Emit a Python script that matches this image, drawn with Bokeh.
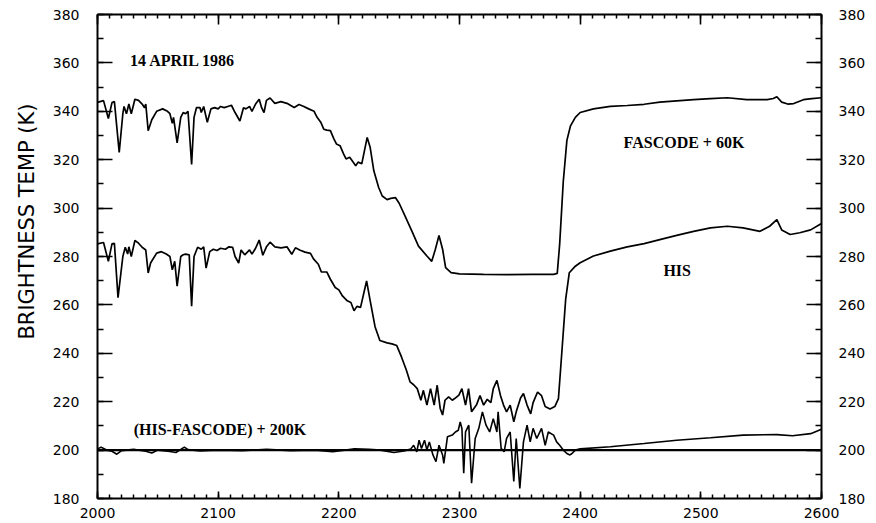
from bokeh.plotting import figure
from bokeh.models import Range1d, FixedTicker, LinearAxis, Span, Label, Title, CustomJSTickFormatter
from bokeh.embed import file_html
from bokeh.resources import INLINE

# ---------------- data ----------------
fas_wn = [2000, 2005, 2009, 2012, 2014, 2018, 2021, 2022, 2024, 2026, 2028, 2031, 2034, 2037, 2039,
          2040, 2042, 2045, 2049, 2054, 2058, 2060, 2062, 2063, 2066, 2069, 2071, 2073, 2075, 2078,
          2080, 2082, 2085, 2086, 2088, 2091, 2094, 2097, 2100, 2102, 2105, 2108, 2111, 2114, 2118,
          2121, 2123, 2126, 2128, 2131, 2134, 2136, 2138, 2140, 2143, 2147, 2152, 2157, 2163, 2167,
          2171, 2175, 2179.5, 2182, 2185, 2187.5, 2190, 2193, 2196, 2198, 2201, 2204, 2206, 2209,
          2214, 2216, 2219, 2223.5, 2226, 2229, 2233, 2236, 2240, 2243, 2247, 2250, 2255, 2261, 2266,
          2273, 2277, 2280, 2283, 2286, 2288.5, 2293, 2300, 2320, 2340, 2360, 2378, 2381, 2383, 2386,
          2389, 2392, 2396, 2400, 2411, 2425, 2439, 2453, 2466, 2480, 2494, 2508, 2522, 2538, 2555,
          2560, 2563, 2567, 2572, 2577, 2585, 2592, 2600]
fas_t = [343.7, 344.4, 337, 343.6, 344, 323, 339, 342, 339, 343, 339, 345, 344.5, 343, 341.5,
         343, 332, 336.5, 340, 341, 340, 339, 335, 337.5, 327, 337.5, 339.5, 339, 340, 318,
         337.5, 341.5, 341.5, 339.5, 342, 335.5, 341, 341.5, 341, 342, 341.5, 342, 342.5, 339.5, 336,
         341.5, 341, 342, 340, 343, 345, 341.5, 339.5, 344.5, 345.5, 343.3, 344, 343.3, 341.6, 342.8,
         342, 341, 340, 337.5, 335.5, 332.6, 332.2, 332, 328.5, 326.5, 325.8, 322.3, 320.3, 321,
         317.5, 319, 318.3, 329.2, 325, 315.4, 308.5, 305, 303.5, 304, 304.3, 302, 296.6, 290, 284.3,
         280.2, 278, 283, 288.7, 283, 275.4, 273.3, 272.8, 272.6, 272.5, 272.6, 272.6, 273, 285, 311,
         328, 334, 337.5, 339.5, 341, 342, 342.4, 342.9, 343.8, 344.3, 344.8, 345.2, 345.6, 344.8, 344.8,
         345.3, 346, 343.8, 343, 343.2, 344.8, 345.2, 345.6]

his_wn = [2000, 2005, 2009, 2012, 2014, 2017, 2021, 2023, 2025, 2026, 2028, 2031, 2034, 2037, 2040,
          2042, 2044, 2049, 2053, 2057, 2060, 2062, 2064, 2066, 2069, 2071, 2073, 2076, 2078, 2080,
          2083, 2086, 2088, 2090, 2093, 2096, 2099, 2102, 2106, 2109, 2112, 2114, 2117, 2119, 2122,
          2126, 2128, 2131, 2134, 2137, 2140, 2143, 2147, 2152, 2157, 2161, 2164, 2168, 2172, 2176.5,
          2179, 2183, 2185.5, 2190, 2193, 2197, 2200, 2203, 2207, 2210, 2212.6, 2215, 2218, 2223, 2226,
          2230, 2234, 2240, 2244, 2248, 2252, 2256, 2259, 2262, 2265, 2268, 2270, 2273, 2276, 2279,
          2281.5, 2284, 2286, 2288, 2291, 2294, 2296, 2299.5, 2302, 2305, 2307.5, 2310, 2314, 2317, 2320,
          2323, 2326, 2328, 2331, 2334, 2336.5, 2339, 2342, 2345, 2347, 2350.6, 2353, 2356, 2359, 2361,
          2364.7, 2368, 2371, 2375, 2379, 2382, 2385, 2388, 2391, 2396, 2400, 2411, 2425, 2439, 2453,
          2466, 2480, 2494, 2508, 2522, 2535, 2549, 2557, 2563, 2567, 2574, 2582, 2591, 2600]
his_t = [285.2, 285.8, 278, 285.2, 285.5, 263, 280, 283.8, 281, 284, 280, 286.6, 285.5, 283.8, 282.7,
         273.2, 277.3, 281.4, 282, 281, 280, 274.5, 278, 267.7, 280, 280.7, 281, 280.7, 259.5, 280,
         283.8, 283, 284, 275.2, 282, 283, 282.5, 283.4, 283, 284, 283.8, 280, 277.3, 282.7, 280.7,
         282.7, 281, 283.4, 286.8, 280.5, 284, 285.9, 284, 283.6, 284, 280.9, 283.6, 282.6, 281.8, 281.3,
         279, 276.8, 273.6, 273.6, 270.6, 267.2, 266.2, 263.7, 261.7, 261, 257.6, 259.4, 259, 269.9, 261.7,
         251, 245.3, 244.3, 243.9, 243.2, 238.4, 233, 228.2, 227, 225.4, 220.6, 224.7, 218.6, 225.4, 218.6,
         226.8, 217.2, 214.5, 220.6, 222, 220.6, 221.3, 222.7, 225.4, 218.6, 225.4, 215.8, 218.6, 222.5, 218.6,
         221, 219.6, 225.4, 228.8, 222.5, 218.6, 215.8, 218.6, 211.7, 215.8, 221.5, 223.4, 218.6, 215, 219.6,
         224, 222.5, 218, 217, 218, 221.3, 241.8, 262.4, 273.3, 276, 277.4, 280.2, 282.2, 284, 285.3,
         287, 288.7, 290.4, 291.8, 292.5, 291.8, 290.4, 292.5, 295.2, 291, 289.1, 289.8, 291, 293.6]

diff_wn = [2000, 2003, 2008, 2012, 2016, 2020, 2030, 2040, 2045, 2050, 2060, 2065, 2072, 2075, 2085,
           2100, 2120, 2140, 2160, 2180, 2195, 2213, 2225, 2234.5, 2245.6, 2254, 2259.5, 2262, 2264.6,
           2266.5, 2268.5, 2271, 2273, 2275, 2278, 2280.5, 2283, 2286, 2287, 2290, 2294, 2296.6, 2299,
           2300.6, 2302, 2303.5, 2305, 2307.7, 2310, 2313, 2316, 2319, 2322, 2325, 2328, 2331, 2332,
           2334.5, 2337, 2339, 2342, 2345, 2347, 2350, 2353, 2356, 2358.6, 2361, 2364, 2368, 2371,
           2373.6, 2378, 2380.5, 2383, 2386, 2389, 2391.5, 2393, 2396, 2400, 2425, 2453, 2480, 2508,
           2535, 2563, 2576, 2591, 2600]
diff_t = [200.5, 201.2, 200, 199.5, 198.3, 199.8, 200.3, 199.5, 198.8, 200, 199.4, 199, 201.2, 200.2, 199.6,
          200, 199.8, 200.3, 199.8, 200, 199.3, 200.5, 200.3, 200, 199, 199.6, 200.4, 202, 199.3,
          204.1, 200.7, 204.1, 200, 203.4, 198, 195.2, 202, 198, 194.5, 205.5, 206.2, 207.5, 208.2,
          211.6, 208.9, 190.4, 207.5, 210.3, 186.3, 204.8, 209, 215.8, 210.3, 207.5, 213, 207.5, 215.8,
          200.7, 199.3, 204.8, 207.5, 187, 204.8, 184.2, 203.4, 210.3, 203.4, 209, 204.8, 209, 202,
          207.5, 206.2, 203.4, 202, 200, 198.6, 198, 198.5, 200, 200.5, 201.4, 202.7, 204.1, 205.1,
          206.2, 206.4, 205.9, 206.8, 208.6]

baseline_k = 200
x_major = [2000, 2100, 2200, 2300, 2400, 2500, 2600]
x_minor = list(range(2000, 2601, 10))
y_major = [180, 200, 220, 240, 260, 280, 300, 320, 340, 360, 380]
y_minor = list(range(180, 381, 10))
y_title = "BRIGHTNESS TEMP (K)"

# ---------------- figure ----------------
p = figure(width=876, height=523, x_range=Range1d(2000, 2600), y_range=Range1d(180, 380),
           output_backend="svg", toolbar_location=None,
           min_border_left=97, min_border_right=55, min_border_top=14, min_border_bottom=25)
p.background_fill_color = "white"
p.border_fill_color = "white"
p.outline_line_color = None
p.xgrid.visible = False
p.ygrid.visible = False

tick_font = "DejaVu Sans"

def style_axis(ax, major_in, minor_in):
    ax.axis_line_width = 2
    ax.axis_line_color = "black"
    ax.major_tick_in = major_in
    ax.major_tick_out = 0
    ax.minor_tick_in = minor_in
    ax.minor_tick_out = 0
    ax.major_tick_line_width = 1.6
    ax.minor_tick_line_width = 1.5
    ax.major_tick_line_color = "black"
    ax.minor_tick_line_color = "black"
    ax.major_label_text_font = tick_font
    ax.major_label_text_font_size = "14px"
    ax.major_label_text_color = "black"

xa = p.xaxis[0]
xa.ticker = FixedTicker(ticks=x_major, minor_ticks=x_minor)
style_axis(xa, 7, 4)
xa.major_label_standoff = 9

ya = p.yaxis[0]
ya.ticker = FixedTicker(ticks=y_major, minor_ticks=y_minor)
style_axis(ya, 15, 6)
ya.major_label_standoff = 18

ra = LinearAxis(ticker=FixedTicker(ticks=y_major, minor_ticks=y_minor))
style_axis(ra, 15, 6)
ra.major_label_standoff = 17
p.add_layout(ra, "right")

ta = LinearAxis(ticker=FixedTicker(ticks=x_major, minor_ticks=x_minor),
                formatter=CustomJSTickFormatter(code="return ''"))
style_axis(ta, 10, 4)
ta.major_label_text_font_size = "1px"
ta.major_label_standoff = 0
p.add_layout(ta, "above")

# y-axis title as a side title, so it can sit above the vertical centre like the original
p.add_layout(Title(text=y_title, align="right", offset=89, standoff=22,
                   text_font=tick_font, text_font_size="21px", text_font_style="normal",
                   text_color="black"), "left")

# reference line
p.add_layout(Span(location=baseline_k, dimension="width", line_color="black", line_width=2.2))

# curves
p.line(fas_wn, fas_t, line_color="black", line_width=1.7)
p.line(his_wn, his_t, line_color="black", line_width=1.7)
p.line(diff_wn, diff_t, line_color="black", line_width=1.6)

def lab(x, y, s):
    p.add_layout(Label(x=x, y=y, text=s, text_font="Liberation Serif", text_font_style="bold",
                       text_font_size="16px", text_color="black", text_baseline="middle",
                       text_align="left"))

lab(2027, 361.1, "14 APRIL 1986")
lab(2436, 327.2, "FASCODE + 60K")
lab(2469, 274.3, "HIS")
lab(2030, 208.6, "(HIS-FASCODE) + 200K")

open("out.html", "w").write(file_html(p, INLINE))
